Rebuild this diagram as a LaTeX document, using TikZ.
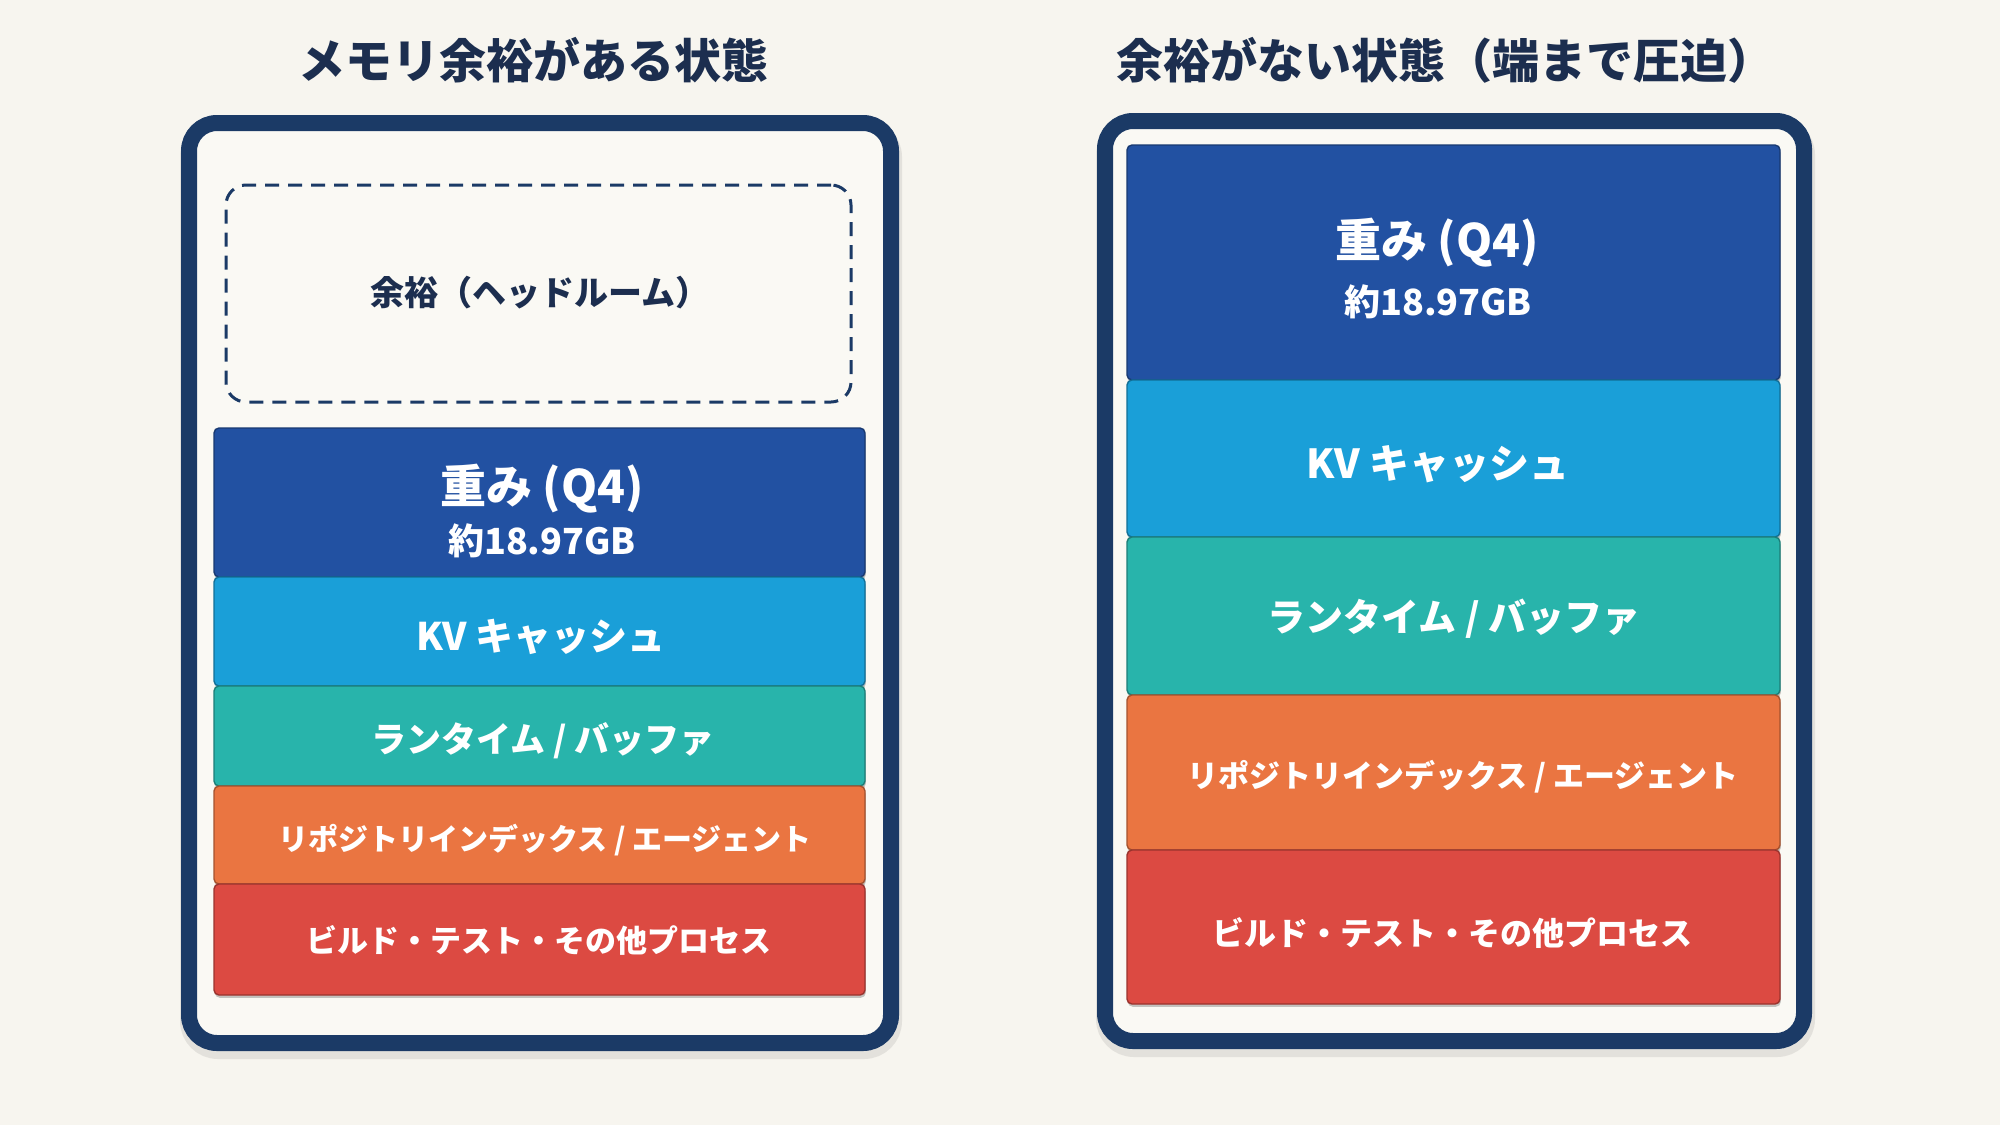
\documentclass[tikz,border=0pt]{standalone}
\usepackage{fontspec}
\setmainfont{Noto Sans CJK JP}
\usetikzlibrary{shadows}
\definecolor{bgc}{HTML}{F7F5EF}
\definecolor{innerc}{HTML}{FAF9F4}
\definecolor{navy}{HTML}{1B3A66}
\definecolor{titlec}{HTML}{1C2E4F}
\definecolor{wblue}{HTML}{2251A2}
\definecolor{kvblue}{HTML}{1A9FD8}
\definecolor{teal}{HTML}{28B4AB}
\definecolor{orng}{HTML}{EA7541}
\definecolor{redc}{HTML}{DC4A42}
\tikzset{
  ttl/.style={font=\bfseries\fontsize{23.5pt}{28pt}\selectfont, text=titlec, inner sep=0pt},
  frame/.style={draw=navy, fill=innerc, line width=8pt, rounded corners=14pt,
    minimum width=#1, minimum height=460pt, inner sep=0pt},
  frameshadow/.style={draw=black, draw opacity=0.08, line width=10pt, rounded corners=14pt,
    minimum width=#1, minimum height=460pt, inner sep=0pt},
  blk/.style={fill=#1, draw=#1!70!black, line width=0.7pt, rounded corners=2.5pt,
    inner sep=0pt, outer sep=0pt, anchor=north west,
    drop shadow={shadow xshift=0.4pt, shadow yshift=-1.4pt, opacity=0.22, fill=black}},
  lbl/.style={text=white, font=\bfseries\fontsize{#1}{1.2\dimexpr#1\relax}\selectfont, inner sep=0pt},
  hlbl/.style={text=titlec, font=\bfseries\fontsize{17pt}{20pt}\selectfont, inner sep=0pt},
  headbox/.style={draw=navy, line width=1.5pt, dash pattern=on 7pt off 4.5pt,
    rounded corners=10pt, minimum width=312.5pt, minimum height=108.5pt, inner sep=0pt}
}
\begin{document}
\begin{tikzpicture}[x=0.5pt,y=-0.5pt]
\path[use as bounding box, fill=bgc] (0,0) rectangle (2000,1125);

% ---------- left panel ----------
\node[ttl] (tl) at (533,60) {メモリ余裕がある状態};
\node[frameshadow=351pt] (lfs) at (541,589) {};
\node[frame=351pt] (lf) at (540,583) {};
\node[headbox] (lh) at (538.5,293.5) {};
\node[hlbl] (lht) at (540,293) {余裕（ヘッドルーム）};

\node[blk=wblue, minimum width=325.5pt, minimum height=74.5pt] (lw) at (214,428) {};
\node[blk=kvblue, minimum width=325.5pt, minimum height=54.5pt] (lk) at (214,577) {};
\node[blk=teal, minimum width=325.5pt, minimum height=50pt] (lt) at (214,686) {};
\node[blk=orng, minimum width=325.5pt, minimum height=49pt] (lo) at (214,786) {};
\node[blk=redc, minimum width=325.5pt, minimum height=55.5pt] (lr) at (214,884) {};

\node[lbl=23pt] (lw1) at (542,489) {重み (Q4)};
\node[lbl=18pt] (lw2) at (542,541) {約18.97GB};
\node[lbl=19pt] (lk1) at (541,637) {KV キャッシュ};
\node[lbl=17.5pt] (lt1) at (543,741) {ランタイム / バッファ};
\node[lbl=15pt] (lo1) at (545,840) {リポジトリインデックス / エージェント};
\node[lbl=15.5pt] (lr1) at (539,940) {ビルド・テスト・その他プロセス};

% ---------- right panel ----------
\node[ttl] (tr) at (1445,60) {余裕がない状態（端まで圧迫）};
\node[frameshadow=349.5pt] (rfs) at (1455.5,587) {};
\node[frame=349.5pt] (rf) at (1454.5,581) {};

\node[blk=wblue, minimum width=326.5pt, minimum height=117.5pt] (rw) at (1127,145) {};
\node[blk=kvblue, minimum width=326.5pt, minimum height=78.5pt] (rk) at (1127,380) {};
\node[blk=teal, minimum width=326.5pt, minimum height=79pt] (rt) at (1127,537) {};
\node[blk=orng, minimum width=326.5pt, minimum height=77.5pt] (ro) at (1127,695) {};
\node[blk=redc, minimum width=326.5pt, minimum height=77pt] (rr) at (1127,850) {};

\node[lbl=23pt] (rw1) at (1437,243) {重み (Q4)};
\node[lbl=18pt] (rw2) at (1438,302) {約18.97GB};
\node[lbl=20pt] (rk1) at (1438,464) {KV キャッシュ};
\node[lbl=19pt] (rt1) at (1454,619) {ランタイム / バッファ};
\node[lbl=15.5pt] (ro1) at (1463,777) {リポジトリインデックス / エージェント};
\node[lbl=16pt] (rr1) at (1452,933) {ビルド・テスト・その他プロセス};
\end{tikzpicture}
\end{document}
